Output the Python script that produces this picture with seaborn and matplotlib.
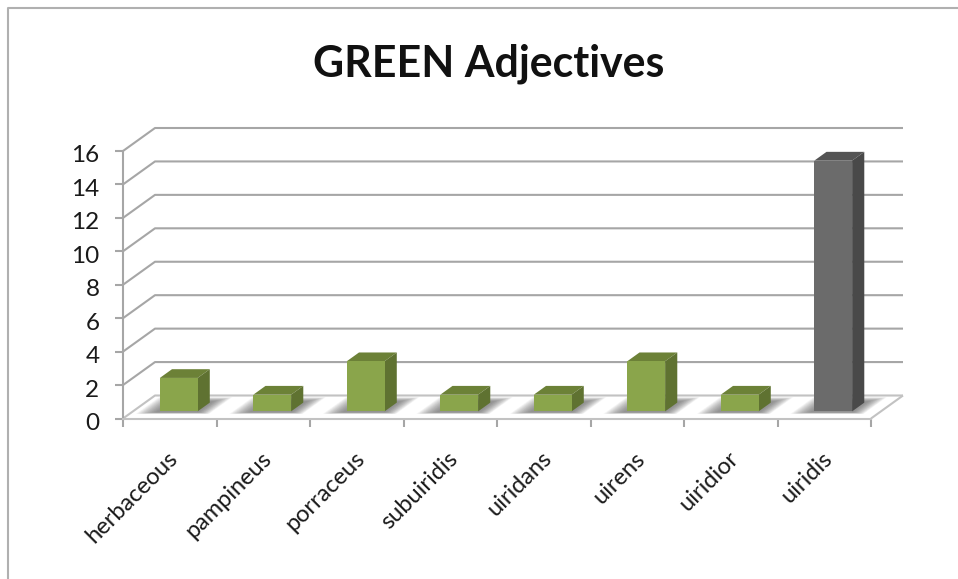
import matplotlib
matplotlib.use("Agg")
import matplotlib.pyplot as plt
import seaborn as sns
from matplotlib.lines import Line2D
from matplotlib.patches import Polygon
from matplotlib.transforms import Affine2D

adjectives = ["herbaceous", "pampineus", "porraceus", "subuiridis",
              "uiridans", "uirens", "uiridior", "uiridis"]
counts = [2, 1, 3, 1, 1, 3, 1, 15]
face_colors = ["#8aa54b"] * 7 + ["#6b6b6b"]
top_colors = ["#6c8137"] * 7 + ["#545454"]
side_colors = ["#5f7231"] * 7 + ["#494949"]
y_ticks = list(range(0, 17, 2))

W, H = 958, 579
LEFT, RIGHT, BOTTOM, TOP = 123, 871, 418.5, 151
GRID = "#a6a6a6"
FLOOR_EDGE = "#c2c2c2"

sns.set_theme(style="white")
plt.rcParams["font.family"] = ["Lato", "DejaVu Sans"]

fig = plt.figure(figsize=(W / 100, H / 100), dpi=100, facecolor="white")
ax = fig.add_axes([LEFT / W, 1 - BOTTOM / H, (RIGHT - LEFT) / W, (BOTTOM - TOP) / H])
ax.patch.set_alpha(0)

sns.barplot(x=adjectives, y=counts, hue=adjectives, palette=face_colors,
            width=0.404, legend=False, saturation=1, ax=ax, zorder=4, linewidth=0)
ax.set_xlim(-0.5, 7.5)
ax.set_ylim(0, 16)

# Oblique depth of the chart box, expressed in data units per unit of depth.
DX = 32 / ((RIGHT - LEFT) / 8)
DY = 23 / ((BOTTOM - TOP) / 16)


def project(x, y, d):
    return x + d * DX, y + d * DY


def line(points, color=GRID, z=1):
    ax.add_line(Line2D(*zip(*points), color=color, lw=1.5, zorder=z,
                       clip_on=False, solid_capstyle="butt"))


# Back wall grid and floor edges.
for v in y_ticks[1:]:
    line([project(-0.5, v, 0), project(-0.5, v, 1), project(7.5, v, 1)])
line([project(-0.5, 0, 0), project(-0.5, 0, 1), project(7.5, 0, 1)], FLOOR_EDGE)
line([project(7.5, 0, 1), project(7.5, 0, 0)], FLOOR_EDGE)

D0, D1 = 0.31, 0.69
LAYERS = 24
for patch, top_c, side_c in zip(list(ax.patches), top_colors, side_colors):
    x0 = patch.get_x() - 0.01
    w = patch.get_width()
    h = patch.get_height()
    x1 = x0 + w
    # Slide the bar's front face back to its place inside the box.
    patch.set_xy(project(x0, 0, D0))
    patch.set_clip_on(False)
    # Soft floor shadow built from nested translucent layers.
    for i in range(LAYERS):
        spread = 1 - i / (LAYERS - 1)
        near, far = D0 - 0.04 - 0.07 * spread, D1 + 0.05 + 0.19 * spread
        xl, xr = x0 - 0.03 - 0.19 * spread, x1 + 0.02 + 0.14 * spread
        ax.add_patch(Polygon(
            [project(xl, 0, near), project(xr, 0, near),
             project(xr, 0, far), project(xl, 0, far)],
            closed=True, fc="#5e5e5e", ec="none", alpha=0.04,
            zorder=1.5, clip_on=False))
    # Top and side faces of the column.
    ax.add_patch(Polygon([project(x0, h, D0), project(x1, h, D0),
                          project(x1, h, D1), project(x0, h, D1)],
                         closed=True, fc=top_c, ec="none", zorder=3, clip_on=False))
    ax.add_patch(Polygon([project(x1, 0, D0), project(x1, 0, D1),
                          project(x1, h, D1), project(x1, h, D0)],
                         closed=True, fc=side_c, ec="none", zorder=3, clip_on=False))

# Axes, ticks and labels.
sns.despine(ax=ax)
ax.spines["left"].set_color(GRID)
ax.spines["bottom"].set_color(FLOOR_EDGE)
for name in ("left", "bottom"):
    ax.spines[name].set_linewidth(1.5)
ax.set_yticks(y_ticks)
ax.tick_params(axis="y", length=6, width=1.5, color=GRID, labelsize=17.5,
               labelcolor="#1a1a1a", pad=11, left=True)
ax.set_xticks(range(len(adjectives)))
ax.set_xticklabels(adjectives, rotation=45, ha="right", rotation_mode="anchor",
                   fontsize=17, color="#1a1a1a")
ax.tick_params(axis="x", length=0, pad=21)
ax.set_xticks([i - 0.5 for i in range(len(adjectives) + 1)], minor=True)
ax.tick_params(axis="x", which="minor", length=6, width=1.5, color=GRID, bottom=True)
ax.set_xlabel("")
ax.set_ylabel("")

# Small nudges for the tick label baselines.
for label in ax.get_yticklabels():
    label.set_transform(label.get_transform() + Affine2D().translate(0, -3))
for label in ax.get_xticklabels():
    label.set_transform(label.get_transform() + Affine2D().translate(-3, 0))

fig.text(488.5 / W, 1 - 64 / H, "GREEN Adjectives", ha="center", va="center",
         fontsize=30.9, fontweight="bold", color="#111111")

# Chart frame, cut off along the top and left edges only.
fig.add_artist(Line2D([8 / W, 8 / W, 1], [0, 1 - 8 / H, 1 - 8 / H],
                      color="#b0b0b0", lw=1.5, transform=fig.transFigure))

fig.savefig("out.png", dpi=100, facecolor="white")
